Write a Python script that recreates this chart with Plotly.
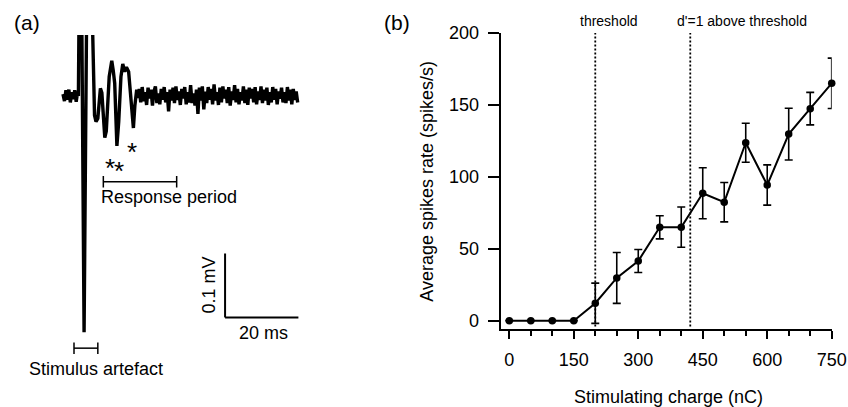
import numpy as np
import plotly.graph_objects as go

W, H = 848, 407

# ---------------- Panel (b) data ----------------
charge_nC = [0, 50, 100, 150, 200, 250, 300, 350, 400, 450, 500, 550, 600, 650, 700, 750]
rate_spk = [0, 0, 0, 0, 12.1, 29.7, 41.5, 64.9, 65.0, 88.6, 82.4, 123.7, 94.3, 129.7, 147.4, 165.0]
rate_err = [0, 0, 0, 0, 14.0, 17.7, 8.0, 8.0, 14.0, 17.7, 13.7, 13.6, 14.0, 18.0, 11.3, 17.5]
threshold_nC = 200
dprime_nC = 421
x_ticks = [0, 150, 300, 450, 600, 750]
y_ticks = [0, 50, 100, 150, 200]

# ---------------- Panel (a) data (voltage trace, µV vs ms) ----------------
pre_t = [0.0, 0.4, 0.8, 1.2, 1.6, 2.0, 2.4, 2.8, 3.2, 3.6, 4.0]
pre_v = [3, -8, 9, -6, 10, -10, 6, -5, 9, -9, 7]
resp_t = [4.2, 4.5, 5.0, 5.75, 6.6, 7.7, 8.6, 9.0, 9.5, 10.2, 10.6, 11.4, 11.8, 12.6, 13.3,
          13.7, 14.1, 14.7, 15.2, 15.8, 16.3, 16.8, 17.3, 17.9, 18.5, 19.2, 19.6, 20.1, 20.5]
resp_v = [0, 220, 220, -369, 240, 200, -30, -40, -35, 12, 5, -65, -55, 30, 55,
          40, 20, -78, -40, 30, 50, 38, 45, 38, 0, -50, -15, 10, -3]
base_t0, base_dt = 20.8, 0.4
base_v = [11, -10, 14, -8, 6, -14, 13, -4, 10, -15, 7, 15, -11, 4, -13, 11, -6, 14, -10, 6,
          -24, 10, -7, 13, -11, 15, -6, 7, -14, 11, -4, 14, -13, 6, -10, 17, -11, 4, -15, 10,
          -28, 13, -7, 15, -21, 7, -11, 14, -6, 11, -13, 18, -7, 6, -14, 13, -10, 15, -4, 10,
          -11, 14, -15, 7, -6, 17, -10, 11, -13, 6, -7, 15, -11, 10, -14, 13, -4, 11, -10, 14,
          -13, 7, -6, 15, -11, 10, -7, 13, -14, 6, -10, 14, -6, 11, -13, 7, -4, 13, -10, 6,
          -11, 14, -7, 10, -13, 11, -6, 7, -10]
base_t = list(np.round(base_t0 + base_dt * np.arange(len(base_v)), 2))
trace_t = pre_t + resp_t + base_t
trace_v = pre_v + resp_v + base_v

response_window_ms = [11.0, 31.0]
artefact_window_ms = [3.0, 9.5]
response_bar_uV = -134
artefact_bar_uV = -394
spike_marks = [(110, 168), (119, 171), (131.7, 152)]  # asterisk pixel anchors
scale_t0, scale_v0 = 44.2, -346
scale_ms, scale_uV = 20, 100

FONT = "Liberation Sans, Arial, sans-serif"

def px(x):
    return x / W

def py(y):
    return 1 - y / H

fig = go.Figure()

fig.add_trace(go.Scatter(x=trace_t, y=trace_v, mode="lines",
                         line=dict(color="black", width=3.4),
                         xaxis="x2", yaxis="y2", showlegend=False, hoverinfo="skip"))

fig.add_trace(go.Scatter(x=charge_nC, y=rate_spk, mode="lines+markers",
                         line=dict(color="black", width=2),
                         marker=dict(color="black", size=7.5),
                         error_y=dict(type="data", array=rate_err, color="black",
                                      thickness=1.6, width=4),
                         showlegend=False, hoverinfo="skip", cliponaxis=False))

shapes = []
for xv in [threshold_nC, dprime_nC]:
    shapes.append(dict(type="line", xref="x", yref="y", x0=xv, x1=xv, y0=-4, y1=200,
                       line=dict(color="black", width=1.8, dash="2px,2px")))
cap = 9
for (a, b), yv in [(response_window_ms, response_bar_uV), (artefact_window_ms, artefact_bar_uV)]:
    shapes.append(dict(type="line", xref="x2", yref="y2", x0=a, x1=b, y0=yv, y1=yv,
                       line=dict(color="black", width=1.5)))
    for xv in (a, b):
        shapes.append(dict(type="line", xref="x2", yref="y2", x0=xv, x1=xv,
                           y0=yv - cap, y1=yv + cap, line=dict(color="black", width=1.5)))
shapes.append(dict(type="line", xref="x2", yref="y2", x0=scale_t0, x1=scale_t0,
                   y0=scale_v0, y1=scale_v0 + scale_uV, line=dict(color="black", width=2)))
shapes.append(dict(type="line", xref="x2", yref="y2", x0=scale_t0, x1=scale_t0 + scale_ms,
                   y0=scale_v0, y1=scale_v0, line=dict(color="black", width=2)))

ann = []
def text(s, x, y, size=18, xanchor="center", yanchor="middle", angle=0):
    ann.append(dict(text=s, x=px(x), y=py(y), xref="paper", yref="paper", showarrow=False,
                    xanchor=xanchor, yanchor=yanchor, textangle=angle,
                    font=dict(family=FONT, size=size, color="black")))

text("(a)", 12, 23, size=21, xanchor="left")
text("(b)", 382, 23, size=21, xanchor="left")
text("Response period", 99, 197, xanchor="left")
text("Stimulus artefact", 27, 369, xanchor="left")
text("20 ms", 263.3, 333)
text("0.1 mV", 208.5, 285, angle=-90)
for (sx, sy) in spike_marks:
    text("*", sx, sy, size=26)
text("threshold", 609, 21, size=14)
text("d'=1 above threshold", 741.7, 21, size=14)
text("Stimulating charge (nC)", 668, 397)
text("Average spikes rate (spikes/s)", 426.7, 181, angle=-90)

fig.update_layout(
    width=W, height=H, margin=dict(l=0, r=0, t=0, b=0, autoexpand=False),
    paper_bgcolor="white", plot_bgcolor="white",
    font=dict(family=FONT, size=18, color="black"),
    shapes=shapes, annotations=ann,
    xaxis=dict(domain=[500.7 / W, 831.7 / W], range=[-20, 750], tickvals=x_ticks,
               automargin=False, ticklabelstandoff=5,
               showline=True, linewidth=2, linecolor="black", showgrid=False, zeroline=False,
               ticks="outside", ticklen=8, tickwidth=2, tickcolor="black",
               tickfont=dict(family=FONT, size=18),
               minor=dict(tickvals=[50, 100, 200, 250, 350, 400, 500, 550, 650, 700],
                          ticks="outside", ticklen=5, tickwidth=2, tickcolor="black")),
    yaxis=dict(domain=[py(329.3), py(33)], range=[-6, 200], tickvals=y_ticks,
               automargin=False, ticklabelstandoff=5,
               showline=True, linewidth=2, linecolor="black", showgrid=False, zeroline=False,
               ticks="outside", ticklen=11, tickwidth=2, tickcolor="black",
               tickfont=dict(family=FONT, size=18)),
    xaxis2=dict(domain=[0, 0.4], range=[(0 - 63) / 3.6667, (339.2 - 63) / 3.6667],
                visible=False, anchor="y2", automargin=False),
    yaxis2=dict(domain=[0, py(35)], range=[(96 - 407) / 0.64, (96 - 35) / 0.64],
                visible=False, anchor="x2", automargin=False),
)

fig.write_html("out.html")
